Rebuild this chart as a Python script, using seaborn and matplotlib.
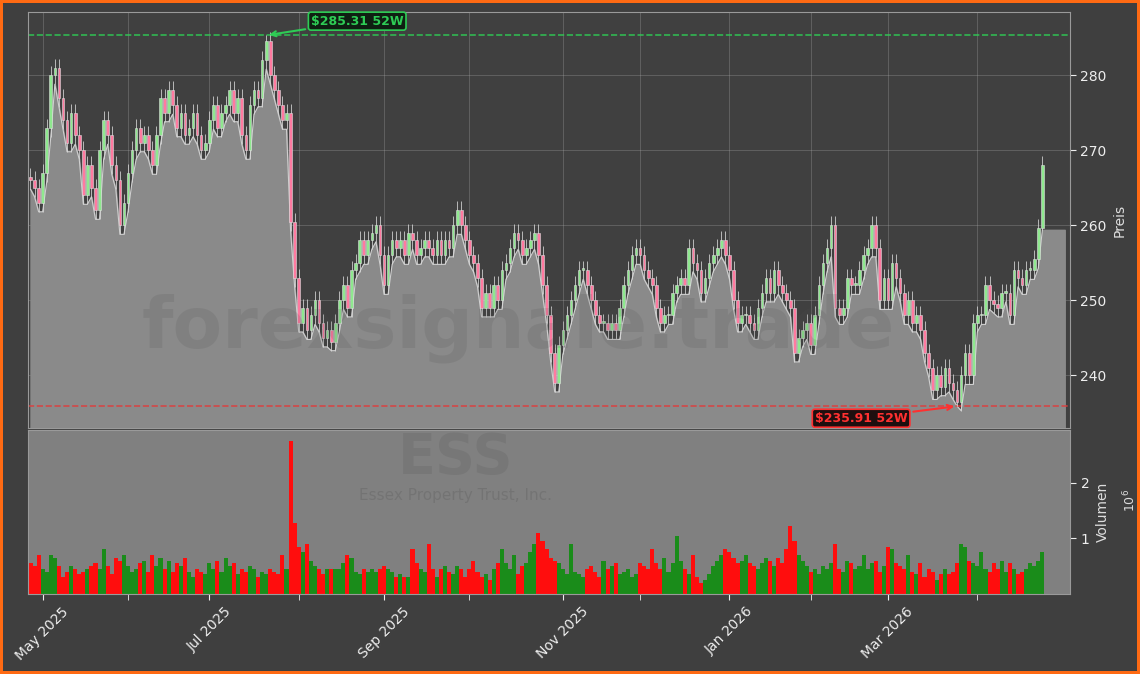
import numpy as np
import pandas as pd
import matplotlib
matplotlib.use('Agg')
import matplotlib.pyplot as plt
from matplotlib.ticker import ScalarFormatter, FixedLocator, NullFormatter
import seaborn as sns

# daily closes (Apr 2025 - Apr 2026)
closes_a = [266, 265, 263, 267, 273, 280, 281, 277, 274, 271,
            275, 272, 270, 264, 268, 265, 262, 270, 274, 272,
            268, 266, 260, 263, 267, 270, 273, 271, 272, 270,
            268, 272, 277, 275, 278, 276, 273, 275, 272, 273,
            275, 272, 270, 271, 274, 276, 273, 275, 276, 278,
            275, 277, 272, 270, 276, 278, 277, 282, 284.5, 280,
            278, 276, 274, 275]
closes_b = [260.5, 253, 247, 249, 246, 248, 250, 247, 245, 246,
            244.5, 247, 250, 252, 249, 254, 255, 258, 256, 258,
            259, 260, 256, 252, 256, 258, 257, 258, 256, 259,
            258, 256, 257, 258, 257, 256, 258, 256, 258, 257,
            260, 262, 260, 258, 256, 255, 253, 249, 251, 249,
            252, 250, 254, 255, 257, 259, 258, 256, 257, 258,
            259, 256, 252, 248, 243]
closes_c = [239, 244, 246, 248, 250, 252, 254,
            254, 252, 250, 248, 247, 247, 246, 247, 246, 249,
            252, 254, 256, 257, 256, 254, 253, 252, 249, 247,
            248, 248, 251, 252, 253, 252, 257, 255, 254, 251,
            253, 255, 256, 257, 258, 256, 254, 250, 247, 248,
            248, 247, 246, 249, 251, 253, 251, 254, 252, 251,
            250, 249, 243, 245, 246, 247, 244, 248, 252, 255,
            257, 260, 249, 248, 249, 253, 252, 252, 254, 256,
            257, 260, 257, 250, 253, 250, 255, 253, 251, 248,
            250, 247, 248, 246, 243, 241, 238, 240, 238.5, 241,
            239, 238, 236.5, 240, 243, 240, 247, 248, 248, 252,
            250, 249.5, 249, 251, 251, 248, 254, 253, 252, 254,
            254, 255.5, 259.6, 268]
closes = closes_a + closes_b + closes_c
first_open = 266.5

volumes_a = [0.55, 0.50, 0.70, 0.45, 0.40, 0.70, 0.65, 0.50, 0.30, 0.40,
             0.50, 0.45, 0.35, 0.40, 0.45, 0.50, 0.55, 0.45, 0.80, 0.50,
             0.35, 0.65, 0.60, 0.70, 0.50, 0.40, 0.45, 0.55, 0.60, 0.40,
             0.70, 0.50, 0.65, 0.45, 0.60, 0.40, 0.55, 0.50, 0.65, 0.40,
             0.30, 0.45, 0.40, 0.35, 0.55, 0.45, 0.60, 0.40, 0.65, 0.50,
             0.55, 0.35, 0.45, 0.40, 0.50, 0.45, 0.30, 0.40, 0.35, 0.45,
             0.40, 0.35, 0.70, 0.45]
volumes_b = [2.75, 1.27, 0.85, 0.75, 0.90, 0.60, 0.50, 0.45, 0.35, 0.45,
             0.45, 0.45, 0.45, 0.55, 0.70, 0.65, 0.40, 0.35, 0.45, 0.40,
             0.45, 0.40, 0.45, 0.50, 0.45, 0.40, 0.30, 0.35, 0.30, 0.30,
             0.80, 0.55, 0.45, 0.40, 0.90, 0.45, 0.30, 0.45, 0.50, 0.40,
             0.35, 0.50, 0.45, 0.30, 0.45, 0.60, 0.40, 0.30, 0.35, 0.25,
             0.45, 0.55, 0.80, 0.55, 0.45, 0.70, 0.35, 0.50, 0.55, 0.75,
             0.90, 1.10, 0.95, 0.80, 0.65]
volumes_c = [0.60, 0.55, 0.45, 0.35, 0.90, 0.40, 0.35, 0.30, 0.45, 0.50,
             0.40, 0.30, 0.60, 0.45, 0.50, 0.55, 0.35, 0.40, 0.45, 0.30,
             0.35, 0.55, 0.50, 0.45, 0.80, 0.55, 0.45, 0.65, 0.40, 0.55,
             1.05, 0.60, 0.45, 0.35, 0.70, 0.30, 0.20, 0.25, 0.35, 0.50,
             0.60, 0.70, 0.80, 0.75, 0.65, 0.55, 0.60, 0.70, 0.55, 0.50,
             0.45, 0.55, 0.65, 0.60, 0.50, 0.65, 0.55, 0.80, 1.22, 0.95,
             0.70, 0.60, 0.50, 0.40, 0.45, 0.35, 0.50, 0.45, 0.55, 0.90,
             0.45, 0.40, 0.60, 0.55, 0.45, 0.50, 0.70, 0.45, 0.55, 0.60,
             0.40, 0.50, 0.85, 0.80, 0.55, 0.50, 0.45, 0.70, 0.40, 0.35,
             0.55, 0.30, 0.45, 0.40, 0.25, 0.35, 0.45, 0.35, 0.40, 0.55,
             0.90, 0.85, 0.60, 0.55, 0.50, 0.75, 0.45, 0.40, 0.55, 0.45,
             0.60, 0.40, 0.55, 0.45, 0.35, 0.40, 0.45, 0.55,
             0.50, 0.60, 0.75]
volumes_m = volumes_a + volumes_b + volumes_c

high_52w = 285.31
low_52w = 235.91
ticker = 'ESS'
company = 'Essex Property Trust, Inc.'
holidays = ['2025-05-26', '2025-06-19', '2025-07-04', '2025-09-01', '2025-11-27',
            '2025-12-25', '2026-01-01', '2026-01-19', '2026-02-16', '2026-04-03']

n = len(closes)
dates = pd.bdate_range('2025-04-28', periods=n, freq='C', holidays=holidays)
opens = [first_open] + closes[:-1]
df = pd.DataFrame({'date': dates, 'open': opens, 'close': closes,
                   'volume': np.array(volumes_m[:n]) * 1e6})
df['i'] = np.arange(n)
df['up'] = df['close'] >= df['open']
pad = 1.2
df['high'] = df[['open', 'close']].max(axis=1) + pad
df['low'] = df[['open', 'close']].min(axis=1) - pad
i_hi = df['close'].idxmax()
df.loc[i_hi, 'high'] = high_52w
i_lo = df['close'].idxmin()
df.loc[i_lo, 'low'] = low_52w
df.loc[n - 1, 'high'] = 269.3
df.loc[n - 1, 'low'] = 259.4

sns.set_style('dark')
plt.rcParams['font.family'] = ['DejaVu Sans']

fig = plt.figure(figsize=(11.4, 6.74), dpi=100)
fig.patch.set_facecolor('#3f3f3f')
fig.patch.set_edgecolor('#ff6a13')
fig.patch.set_linewidth(4)

ax = fig.add_axes([0.0246, 0.365, 0.914, 0.617])
axv = fig.add_axes([0.0246, 0.1187, 0.914, 0.243], sharex=ax)
ax.set_facecolor('#404040')
axv.set_facecolor('#808080')

xmax = n + 5.8

# area under lows, running on to the right edge
fx = list(df['i']) + [n + 4.5]
fy = list(df['low']) + [df['low'].iloc[-1]]
ax.fill_between(fx, fy, 233, color='#8a8a8a', zorder=1)
sns.lineplot(x=df['i'], y=df['low'], ax=ax, color='#cfcfcf', lw=0.8, zorder=2)

up_c, dn_c = '#8fe88f', '#ff7aa0'
ax.vlines(df['i'], df['low'], df['high'], color='#d8d8d8', lw=0.7, alpha=0.8, zorder=3)
body_lo = df[['open', 'close']].min(axis=1)
body_h = (df['close'] - df['open']).abs().clip(lower=0.25)
ax.bar(df['i'], body_h, bottom=body_lo, width=0.65,
       color=np.where(df['up'], up_c, dn_c), edgecolor='#e0e0e0', linewidth=0.4, zorder=4)

ax.axhline(high_52w, color='#2ecc55', ls='--', lw=1.2, alpha=0.85, zorder=2)
ax.axhline(low_52w, color='#e03c3c', ls='--', lw=1.2, alpha=0.85, zorder=2)

ax.annotate(f'${high_52w:.2f} 52W', xy=(i_hi, high_52w), xytext=(i_hi + 11, 287.2),
            color='#2ecc55', fontsize=9, fontweight='bold', va='center',
            bbox=dict(boxstyle='round,pad=0.2', fc='#0f1f12', ec='#2ecc55', lw=1.2),
            arrowprops=dict(arrowstyle='->', color='#2ecc55', lw=1.5), zorder=6)
ax.annotate(f'${low_52w:.2f} 52W', xy=(i_lo, low_52w), xytext=(i_lo - 35, 234.3),
            color='#ff3030', fontsize=9, fontweight='bold', va='center',
            bbox=dict(boxstyle='round,pad=0.2', fc='#1e0f0f', ec='#ff3030', lw=1.2),
            arrowprops=dict(arrowstyle='->', color='#ff3030', lw=1.5), zorder=6)

ax.text(0.47, 0.24, 'forexsignale.trade', transform=ax.transAxes, fontsize=52,
        fontweight='bold', color='#505050', alpha=0.16, ha='center', va='center', zorder=5)

ax.set_xlim(-0.6, xmax)
ax.set_ylim(233, 288.4)
ax.yaxis.tick_right()
ax.yaxis.set_label_position('right')
ax.set_ylabel('Preis', color='#dddddd', fontsize=10)
ax.tick_params(axis='y', colors='#eeeeee', labelsize=10, length=4, right=True)
ax.tick_params(axis='x', bottom=False, labelbottom=False)
for s in ax.spines.values():
    s.set_color('#9a9a9a')

# month ticks at first trading day of each month
month_first = df.groupby(df['date'].dt.to_period('M'))['i'].min()
month_first = month_first[month_first > 0]
major = [i for p, i in month_first.items() if p.month % 2 == 1]
major_lbl = [p.strftime('%b %Y') for p, i in month_first.items() if p.month % 2 == 1]
minor = [i for p, i in month_first.items() if p.month % 2 == 0]
ax.xaxis.set_major_locator(FixedLocator(major))
ax.xaxis.set_minor_locator(FixedLocator(minor))
ax.grid(True, which='both', color='#aaaaaa', alpha=0.3, lw=0.7)

# volume
vcol = np.where(df['up'], '#1a8c1a', '#ff0d0d')
axv.bar(df['i'], df['volume'], width=1.0, color=vcol, linewidth=0, zorder=2)
axv.text(0.41, 0.83, ticker, transform=axv.transAxes, fontsize=40, fontweight='bold',
         color='#6a6a6a', alpha=0.4, ha='center', va='center')
axv.text(0.41, 0.6, company, transform=axv.transAxes, fontsize=11,
         color='#6a6a6a', alpha=0.55, ha='center', va='center')
axv.set_ylim(0, 2.94e6)
axv.set_yticks([1e6, 2e6])
axv.yaxis.set_major_formatter(ScalarFormatter(useMathText=True))
axv.yaxis.tick_right()
axv.yaxis.set_label_position('right')
axv.set_ylabel('Volumen', color='#dddddd', fontsize=10)
axv.tick_params(axis='y', colors='#eeeeee', labelsize=10, length=4, right=True)
axv.yaxis.get_offset_text().set_visible(False)
axv.text(1.058, 0.57, r'$10^6$', transform=axv.transAxes, rotation=90,
         color='#dddddd', fontsize=9, ha='center', va='center')
axv.set_xticks(major)
axv.set_xticklabels(major_lbl, rotation=45, ha='center')
axv.set_xticks(minor, minor=True)
axv.xaxis.set_minor_formatter(NullFormatter())
axv.tick_params(axis='x', which='both', colors='#eeeeee', labelsize=10, length=4, bottom=True)
axv.grid(False)
for s in axv.spines.values():
    s.set_color('#9a9a9a')

fig.savefig('out.png', dpi=100, facecolor=fig.get_facecolor(), edgecolor=fig.get_edgecolor())
